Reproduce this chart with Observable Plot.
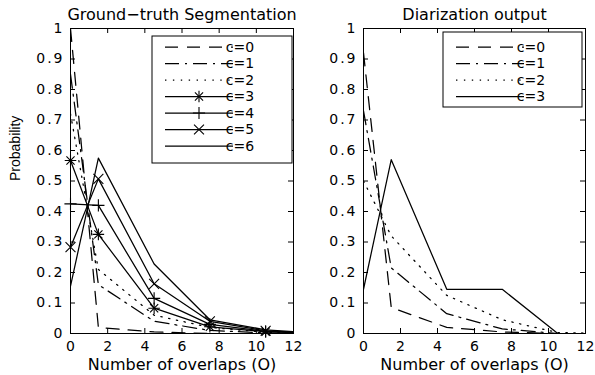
<!DOCTYPE html>
<html><head><meta charset="utf-8">
<script src="https://cdn.jsdelivr.net/npm/d3@7"></script>
<script src="https://cdn.jsdelivr.net/npm/@observablehq/plot@0.6"></script>
<style>
html,body{margin:0;padding:0;background:#fff;}
#wrap{position:relative;width:595px;height:375px;background:#fff;overflow:hidden;}
#wrap svg{position:absolute;top:0;}
</style></head><body><div id="wrap"></div>
<script>
// ---- data ----
const overlaps = [0, 1.5, 4.5, 7.5, 10.5, 13.5];

const gtC0 = [1.00, 0.020, 0.005, 0.000, 0.000, 0];
const gtC1 = [0.85, 0.160, 0.040, 0.010, 0.002, 0];
const gtC2 = [0.72, 0.210, 0.060, 0.020, 0.004, 0];
const gtC3 = [0.567, 0.325, 0.083, 0.022, 0.006, 0];
const gtC4 = [0.425, 0.420, 0.115, 0.030, 0.007, 0];
const gtC5 = [0.283, 0.507, 0.163, 0.040, 0.009, 0];
const gtC6 = [0.155, 0.575, 0.228, 0.045, 0.012, 0];

const diC0 = [0.92, 0.085, 0.020, 0.005, 0.000, 0];
const diC1 = [0.73, 0.215, 0.065, 0.015, 0.000, 0];
const diC2 = [0.50, 0.320, 0.125, 0.045, 0.003, 0];
const diC3 = [0.145, 0.570, 0.145, 0.145, 0.000, 0];

const seriesLabels = ["c=0", "c=1", "c=2", "c=3", "c=4", "c=5", "c=6"];
const xTicks = [0, 2, 4, 6, 8, 10, 12];
const xTickLabels = ["0", "2", "4", "6", "8", "10", "12"];
const yTicks = [0, 0.1, 0.2, 0.3, 0.4, 0.5, 0.6, 0.7, 0.8, 0.9, 1];
const yTickLabels = ["0", "0.1", "0.2", "0.3", "0.4", "0.5", "0.6", "0.7", "0.8", "0.9", "1"];
const titles = ["Ground\u2212truth Segmentation", "Diarization output"];
const xLabel = "Number of overlaps (O)";
const yLabel = "Probability";

// ---- styles (MATLAB-like) ----
const DASH = "13,9", DASHDOT = "14,6,2,6", DOT = "1.4,6.5";
const gtStyles = [
  {dash: DASH, markers: []},
  {dash: DASHDOT, markers: []},
  {dash: DOT, markers: []},
  {dash: null, markers: [{symbol: "plus", r: 3.8}, {symbol: "times", r: 3.8}]},
  {dash: null, markers: [{symbol: "plus", r: 4.0}]},
  {dash: null, markers: [{symbol: "times", r: 4.6}]},
  {dash: null, markers: []}
];
const diStyles = [
  {dash: DASH, markers: []},
  {dash: DASHDOT, markers: []},
  {dash: DOT, markers: []},
  {dash: null, markers: []}
];

const H = 375, MT = 28, MB = 42;

function panel({width, ml, mr, title, values, styles, showY, legend}) {
  const fw = width - ml - mr, fh = H - MT - MB;
  const marks = [];
  values.forEach((vals, k) => {
    const rows = overlaps.map((x, i) => ({x, y: vals[i]}));
    marks.push(Plot.line(rows, {x: "x", y: "y", stroke: "#000", strokeWidth: 1.25,
      strokeDasharray: styles[k].dash || undefined, clip: true}));
    styles[k].markers.forEach(m => marks.push(Plot.dot(rows.filter(d => d.x <= 12),
      {x: "x", y: "y", symbol: m.symbol, r: m.r, stroke: "#000", strokeWidth: 1.1})));
  });
  marks.push(
    Plot.tickY(yTicks, {y: d => d, insetRight: fw - 5, stroke: "#000"}),
    Plot.tickY(yTicks, {y: d => d, insetLeft: fw - 5, stroke: "#000"}),
    Plot.tickX(xTicks, {x: d => d, insetTop: fh - 5, stroke: "#000"}),
    Plot.tickX(xTicks, {x: d => d, insetBottom: fh - 5, stroke: "#000"}),
    Plot.frame({stroke: "#000", strokeWidth: 1}),
    Plot.axisX(xTicks, {tickSize: 0, tickPadding: 8, label: null, fontSize: 14,
      tickFormat: d => xTickLabels[xTicks.indexOf(d)]}),
    Plot.axisY(yTicks, {tickSize: 0, tickPadding: 6, label: null, fontSize: 14,
      tickFormat: d => yTickLabels[yTicks.indexOf(d)]}),
    Plot.text([title], {frameAnchor: "top", dy: -8.5, lineAnchor: "bottom", fontSize: 16}),
    Plot.text([xLabel], {frameAnchor: "bottom", dy: 36, lineAnchor: "bottom", fontSize: 16})
  );
  if (showY) marks.push(Plot.text([yLabel], {frameAnchor: "left", rotate: -90, dx: -54.5,
    lineAnchor: "middle", fontSize: 14, fontFamily: "Liberation Sans"}));
  const svg = Plot.plot({
    width, height: H, marginLeft: ml, marginRight: mr, marginTop: MT, marginBottom: MB,
    x: {domain: [0, 12]}, y: {domain: [0, 1]},
    style: {fontFamily: "DejaVu Sans", fontSize: "14px", background: "transparent", overflow: "visible", color: "#000"},
    marks
  });
  d3.select(svg).selectAll('[aria-label="y-axis tick label"] text').style("letter-spacing", "2px");
  // legend (inside the axes, MATLAB style)
  const g = d3.select(svg).append("g");
  const b = legend;
  g.append("rect").attr("x", b.x).attr("y", b.y).attr("width", b.w).attr("height", b.h)
    .attr("fill", "#fff").attr("stroke", "#000").attr("stroke-width", 1);
  styles.forEach((s, i) => {
    const y = b.y + b.first + i * 16.5;
    g.append("line").attr("x1", b.x + 13).attr("x2", b.x + 81).attr("y1", y).attr("y2", y)
      .attr("stroke", "#000").attr("stroke-width", 1.25).attr("stroke-dasharray", s.dash);
    s.markers.forEach(m => {
      const type = m.symbol === "plus" ? d3.symbolPlus : d3.symbolTimes;
      g.append("path").attr("d", d3.symbol(type, Math.PI * m.r * m.r)())
        .attr("transform", `translate(${b.x + 47},${y})`)
        .attr("fill", "none").attr("stroke", "#000").attr("stroke-width", 1.1);
    });
    g.append("text").attr("x", b.x + 88).attr("y", y).attr("dy", "0.35em")
      .attr("font-size", 14).attr("fill", "#000").text(seriesLabels[i]);
  });
  return svg;
}

const wrap = document.getElementById("wrap");
const left = panel({width: 297, ml: 70, mr: 4, title: titles[0],
  values: [gtC0, gtC1, gtC2, gtC3, gtC4, gtC5, gtC6], styles: gtStyles, showY: true,
  legend: {x: 152, y: 36, w: 140, h: 127, first: 11}});
left.style.left = "0px";
const right = panel({width: 298, ml: 66, mr: 10, title: titles[1],
  values: [diC0, diC1, diC2, diC3], styles: diStyles, showY: false,
  legend: {x: 146, y: 32, w: 139, h: 75, first: 15}});
right.style.left = "297px";
wrap.appendChild(left);
wrap.appendChild(right);
</script></body></html>
